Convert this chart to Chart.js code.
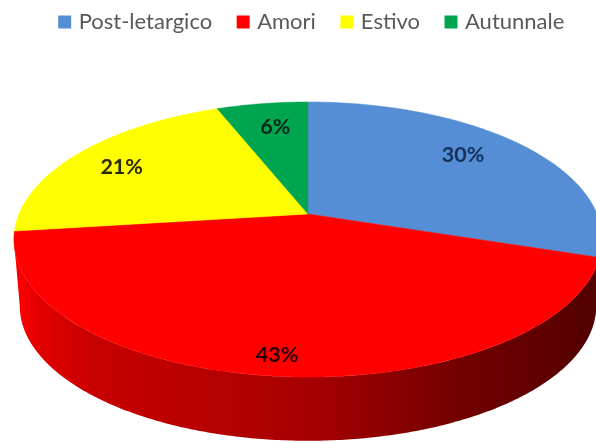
<!DOCTYPE html>
<html>
<head>
<meta charset="utf-8">
<style>
html,body{margin:0;padding:0;background:#fff;width:596px;height:443px;overflow:hidden}
#wrap{width:596px;height:443px}
canvas{display:block;filter:blur(0.7px)}
</style>
<script src="https://cdn.jsdelivr.net/npm/chart.js@4"></script>
</head>
<body>
<div id="wrap"><canvas id="c" width="596" height="443"></canvas></div>
<script>
const categories = ['Post-letargico', 'Amori', 'Estivo', 'Autunnale'];
const values = [30, 43, 21, 6];
const percentLabels = ['30%', '43%', '21%', '6%'];
const colors = ['#558ED5', '#FF0000', '#FFFF00', '#00A550'];
const labelColors = ['#14305c', '#2a0000', '#2a2a00', '#00281a'];

// 3-D view of the pie: perspective projection of the unit disc
const view = {cx: 308, cy: 214, R: 289, H: 132.8, k: 0.1855, drop: 67, shrink: 0.98};
const labelOffsets = [[3, -8], [-9, 35], [-23, -3], [1, -6]];
const wallStops = [[0, 1], [0.05, 0.88], [0.14, 0.78], [0.5, 0.66], [0.75, 0.46], [1, 0.32]];

function project(r, a, lower) {
  const u = r * Math.cos(a), v = r * Math.sin(a), w = 1 - view.k * v;
  const s = lower ? view.shrink : 1;
  return [view.cx + s * view.R * u / w, view.cy + (lower ? view.drop : 0) + s * view.H * v / w];
}
function shade(hex, f) {
  const n = parseInt(hex.slice(1), 16);
  return `rgb(${Math.round((n >> 16 & 255) * f)},${Math.round((n >> 8 & 255) * f)},${Math.round((n & 255) * f)})`;
}
function rim(ctx, a0, a1, lower, first) {
  const steps = Math.max(2, Math.ceil(Math.abs(a1 - a0) / 0.01));
  for (let i = 0; i <= steps; i++) {
    const p = project(1, a0 + (a1 - a0) * i / steps, lower);
    if (i === 0 && first) ctx.moveTo(p[0], p[1]); else ctx.lineTo(p[0], p[1]);
  }
}

const pie3d = {
  id: 'pie3d',
  beforeDatasetsDraw(chart) {
    const ctx = chart.ctx, arcs = chart.getDatasetMeta(0).data;
    ctx.save();
    // outer wall: seen between the two silhouette points, in the colour of the front slice
    const edge = Math.asin(view.k);
    const front = arcs.findIndex(a => a.startAngle <= Math.PI / 2 && a.endAngle >= Math.PI / 2);
    const g = ctx.createLinearGradient(14, 0, 596, 0);
    wallStops.forEach(s => g.addColorStop(s[0], shade(colors[front], s[1])));
    ctx.fillStyle = g;
    ctx.beginPath();
    rim(ctx, edge, Math.PI - edge, false, true);
    rim(ctx, Math.PI - edge, edge, true, false);
    ctx.closePath();
    ctx.fill();
    // top face
    arcs.forEach((arc, i) => {
      ctx.fillStyle = colors[i];
      ctx.strokeStyle = colors[i];
      ctx.lineWidth = 0.5;
      ctx.beginPath();
      ctx.moveTo(view.cx, view.cy);
      rim(ctx, arc.startAngle, arc.endAngle, false, false);
      ctx.closePath();
      ctx.fill();
      ctx.stroke();
    });
    // value labels
    ctx.font = 'bold 21.5px Lato, "Open Sans", sans-serif';
    ctx.textAlign = 'center';
    ctx.textBaseline = 'middle';
    arcs.forEach((arc, i) => {
      const p = project(0.7, (arc.startAngle + arc.endAngle) / 2, false);
      ctx.fillStyle = labelColors[i];
      ctx.fillText(percentLabels[i], p[0] + labelOffsets[i][0], p[1] + labelOffsets[i][1]);
    });
    ctx.restore();
    return false;
  }
};

new Chart(document.getElementById('c'), {
  type: 'pie',
  data: {
    labels: categories,
    datasets: [{data: values, backgroundColor: colors, borderColor: colors, borderWidth: 7}]
  },
  plugins: [pie3d],
  options: {
    responsive: false,
    animation: false,
    events: [],
    layout: {padding: {left: 15, right: -15, top: -17}},
    plugins: {
      tooltip: {enabled: false},
      legend: {
        position: 'top',
        labels: {
          boxWidth: 6,
          boxHeight: 6,
          padding: 28,
          color: '#595959',
          font: {family: 'Lato, "Open Sans", sans-serif', size: 22}
        }
      }
    }
  }
});
</script>
</body>
</html>
